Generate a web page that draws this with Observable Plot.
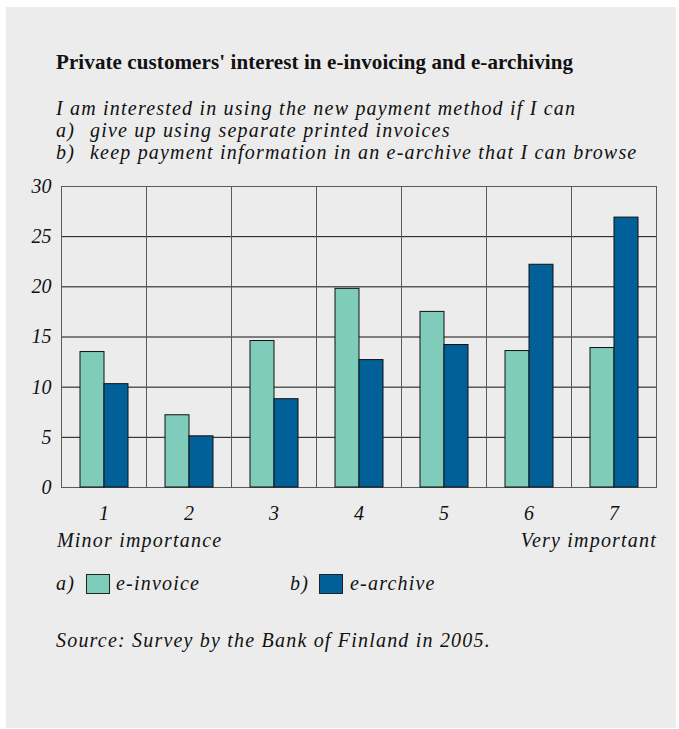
<!DOCTYPE html>
<html>
<head>
<meta charset="utf-8">
<script src="https://cdn.jsdelivr.net/npm/d3@7"></script>
<script src="https://cdn.jsdelivr.net/npm/@observablehq/plot@0.6"></script>
<style>
  body { margin: 0; background: #ffffff; font-family: "Liberation Serif", "DejaVu Serif", serif; color: #111; }
  #panel { position: absolute; left: 6px; top: 7px; width: 670px; height: 721px; background: #ececec; }
  .abs { position: absolute; white-space: nowrap; }
  .it { font-style: italic; font-size: 20px; line-height: 20px; letter-spacing: 1.2px; }
  .sw { position: absolute; width: 22px; height: 18px; border: 1px solid #222; }
</style>
</head>
<body>
<div id="panel"></div>
<div class="abs" id="title" style="left:56px; top:52px; font-size:21px; line-height:21px; font-weight:bold; letter-spacing:0.1px;"></div>
<div class="abs it" id="subtitle" style="left:56px; top:97px; line-height:22px;"></div>
<div id="chart" class="abs" style="left:6px; top:170px;"></div>
<div class="abs it" id="lowLabel" style="left:57px; top:530px;"></div>
<div class="abs it" id="highLabel" style="right:22px; top:530px;"></div>
<div id="legend"></div>
<div class="abs it" id="source" style="left:56px; top:630px;"></div>
<script>
const titleText = "Private customers' interest in e-invoicing and e-archiving";
const subtitleLead = "I am interested in using the new payment method if I can";
const subtitleItems = [["a)", "give up using separate printed invoices"], ["b)", "keep payment information in an e-archive that I can browse"]];
const categories = ["1", "2", "3", "4", "5", "6", "7"];
const seriesNames = ["e-invoice", "e-archive"];
const seriesKeys = ["a)", "b)"];
const seriesColors = ["#7fccbb", "#006097"];
const eInvoice = [13.5, 7.2, 14.6, 19.8, 17.5, 13.6, 13.9];
const eArchive = [10.3, 5.1, 8.8, 12.7, 14.2, 22.2, 26.9];
const yTicks = [0, 5, 10, 15, 20, 25, 30];
const lowLabel = "Minor importance";
const highLabel = "Very important";
const sourceText = "Source: Survey by the Bank of Finland in 2005.";

document.getElementById("title").textContent = titleText;
const sub = document.getElementById("subtitle");
const l0 = document.createElement("div"); l0.textContent = subtitleLead; sub.appendChild(l0);
for (const [k, t] of subtitleItems) {
  const d = document.createElement("div");
  const s = document.createElement("span"); s.textContent = k; s.style.display = "inline-block"; s.style.width = "34px";
  d.appendChild(s); d.appendChild(document.createTextNode(t)); sub.appendChild(d);
}
document.getElementById("lowLabel").textContent = lowLabel;
document.getElementById("highLabel").textContent = highLabel;
document.getElementById("source").textContent = sourceText;

const legendPos = [{key: 56, sw: 86, txt: 116}, {key: 290, sw: 319, txt: 350}];
const legend = document.getElementById("legend");
seriesNames.forEach((name, i) => {
  const p = legendPos[i];
  const k = document.createElement("div"); k.className = "abs it"; k.textContent = seriesKeys[i];
  Object.assign(k.style, {left: p.key + "px", top: "573px"});
  const sw = document.createElement("div"); sw.className = "sw";
  Object.assign(sw.style, {left: p.sw + "px", top: "574px", background: seriesColors[i]});
  const t = document.createElement("div"); t.className = "abs it"; t.textContent = name;
  Object.assign(t.style, {left: p.txt + "px", top: "573px"});
  legend.append(k, sw, t);
});

const data = [];
categories.forEach((c, i) => {
  data.push({cat: c, series: seriesNames[0], value: eInvoice[i]});
  data.push({cat: c, series: seriesNames[1], value: eArchive[i]});
});

const chart = Plot.plot({
  width: 670,
  height: 357,
  marginLeft: 54,
  marginRight: 19,
  marginTop: 16,
  marginBottom: 40,
  style: {background: "transparent", fontFamily: "'Liberation Serif', 'DejaVu Serif', serif", fontSize: "20px", fontStyle: "italic", color: "#111"},
  fx: {domain: categories, padding: 0, tickSize: 0, tickPadding: 18, label: null},
  x: {domain: seriesNames, paddingInner: 0, paddingOuter: 0.75, axis: null},
  y: {domain: [0, 30], ticks: yTicks, tickSize: 0, tickPadding: 10, label: null},
  color: {domain: seriesNames, range: seriesColors},
  marks: [
    Plot.ruleY(yTicks, {stroke: "#111", strokeWidth: 1}),
    Plot.frame({stroke: "#5a5a5a", strokeWidth: 1}),
    Plot.barY(data, {fx: "cat", x: "series", y: "value", fill: "series", stroke: "#111", strokeWidth: 1})
  ]
});
document.getElementById("chart").appendChild(chart);
</script>
</body>
</html>
